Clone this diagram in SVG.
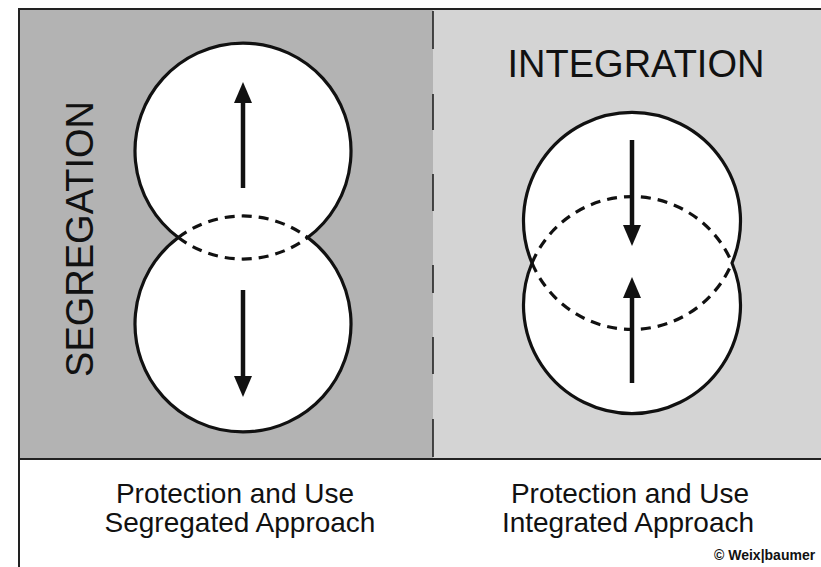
<svg xmlns="http://www.w3.org/2000/svg" width="821" height="567" viewBox="0 0 821 567">
<style>
.frame{stroke:#222;stroke-width:2;fill:none}
.solid{fill:#fff;stroke:#111;stroke-width:3.2}
.hidden{fill:none;stroke:#111;stroke-width:3.2;stroke-dasharray:10 7}
.arrow{stroke:#111;stroke-width:4.5;fill:none;marker-end:url(#head)}
.big{font-family:"Liberation Sans",Arial,sans-serif;font-size:38px;fill:#111}
.cap{font-family:"Liberation Sans",Arial,sans-serif;font-size:28px;fill:#111;text-anchor:middle}
.div{stroke:#222;stroke-width:1.6}
</style>
<defs>
<marker id="head" viewBox="0 0 21 18" markerWidth="21" markerHeight="18" refX="0" refY="9" orient="auto" markerUnits="userSpaceOnUse">
<path d="M0,0 L21,9 L0,18 Z" fill="#111"/>
</marker>
</defs>
<rect x="0" y="0" width="821" height="567" fill="#fff"/>
<g id="panel-segregation">
<rect x="19" y="9" width="414" height="450" fill="#b3b3b3"/>
</g>
<g id="panel-integration">
<rect x="433" y="9" width="388" height="450" fill="#d4d4d4"/>
</g>
<g id="frame">
<line class="frame" x1="19" y1="9" x2="821" y2="9"/>
<line class="frame" x1="19" y1="8" x2="19" y2="567"/>
<line class="frame" x1="19" y1="459" x2="821" y2="459"/>
<g class="div">
<line x1="433" y1="11" x2="433" y2="49"/>
<line x1="433" y1="94" x2="433" y2="130"/>
<line x1="433" y1="174" x2="433" y2="211"/>
<line x1="433" y1="265" x2="433" y2="293"/>
<line x1="433" y1="337" x2="433" y2="374"/>
<line x1="433" y1="419" x2="433" y2="457"/>
</g>
</g>
<g id="segregation-circles">
<path class="solid" d="M178.3,237.5 A108,108 0 1 1 307.7,237.5 A108,108 0 1 1 178.3,237.5 Z"/>
<path class="hidden" d="M178.3,237.5 A108,108 0 0 0 307.7,237.5"/>
<path class="hidden" d="M178.3,237.5 A108,108 0 0 1 307.7,237.5"/>
</g>
<g id="integration-circles">
<path class="solid" d="M532,263 A108.5,108.5 0 1 1 732,263 A108.5,108.5 0 1 1 532,263 Z"/>
<path class="hidden" d="M532,263 A108.5,108.5 0 0 0 732,263"/>
<path class="hidden" d="M532,263 A108.5,108.5 0 0 1 732,263"/>
</g>
<g id="connectors">
<path class="arrow" d="M243,188 L243,103"/>
<path class="arrow" d="M243,290 L243,376"/>
<path class="arrow" d="M632,140 L632,225"/>
<path class="arrow" d="M632,383 L632,298"/>
</g>
<g id="label-segregation">
<text class="big" transform="translate(93,239) rotate(-90)" text-anchor="middle">SEGREGATION</text>
</g>
<g id="label-integration">
<text class="big" x="636" y="77" text-anchor="middle">INTEGRATION</text>
</g>
<g id="caption-segregated">
<text class="cap" y="503"><tspan x="235">Protection and Use</tspan><tspan x="240" dy="29">Segregated Approach</tspan></text>
</g>
<g id="caption-integrated">
<text class="cap" y="503"><tspan x="630">Protection and Use</tspan><tspan x="628" dy="29">Integrated Approach</tspan></text>
</g>
<g id="copyright">
<text x="714" y="560" font-family="'Liberation Sans',Arial,sans-serif" font-size="14" font-weight="bold" fill="#111">© Weix|baumer</text>
</g>
</svg>
